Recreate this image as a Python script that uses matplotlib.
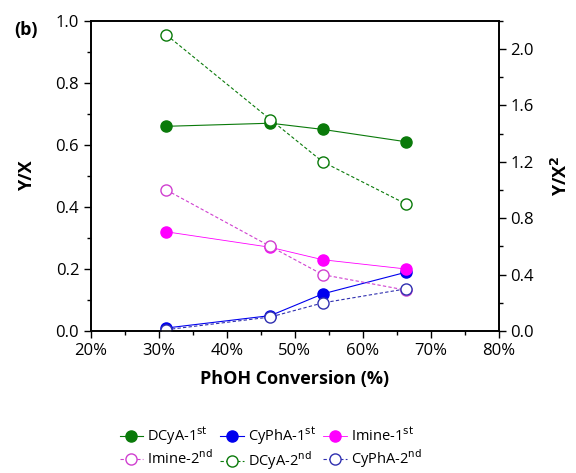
import matplotlib.pyplot as plt
from matplotlib.ticker import MultipleLocator, FuncFormatter

plt.rcParams['font.family'] = ['Open Sans', 'DejaVu Sans']

conv = [31.1, 46.4, 54.1, 66.4]   # PhOH conversion, %

# first-order products (Y/X, left axis)
dcya_1 = [0.66, 0.67, 0.65, 0.61]
cypha_1 = [0.01, 0.05, 0.12, 0.19]
imine_1 = [0.32, 0.27, 0.23, 0.20]

# second-order products (Y/X^2, right axis)
imine_2 = [1.00, 0.60, 0.40, 0.29]
dcya_2 = [2.10, 1.50, 1.20, 0.90]
cypha_2 = [0.01, 0.10, 0.20, 0.30]

green = '#0a7a0a'
blue = '#0000ee'
magenta = '#ff00ff'

fig = plt.figure(figsize=(5.76, 4.73), dpi=100)
ax = fig.add_axes([0.158, 0.300, 0.708, 0.656])
ax2 = ax.twinx()

h1, = ax.plot(conv, dcya_1, '-o', color=green, lw=0.8, ms=8, label='DCyA-1$^{\\rm st}$')
h2, = ax.plot(conv, cypha_1, '-o', color=blue, lw=0.8, ms=8, label='CyPhA-1$^{\\rm st}$')
h3, = ax.plot(conv, imine_1, '-o', color=magenta, lw=0.6, ms=8, label='Imine-1$^{\\rm st}$')

h4, = ax2.plot(conv, imine_2, '--o', color='#d040d0', lw=0.8, ms=8, mfc='white',
               dashes=(3, 2), label='Imine-2$^{\\rm nd}$')
h5, = ax2.plot(conv, dcya_2, '--o', color=green, lw=0.8, ms=8, mfc='white',
               dashes=(3, 2), label='DCyA-2$^{\\rm nd}$')
h6, = ax2.plot(conv, cypha_2, '--o', color='#3030b0', lw=0.8, ms=8, mfc='white',
               dashes=(3, 2), label='CyPhA-2$^{\\rm nd}$')

ax.set_xlim(20, 80)
ax.set_ylim(0, 1.0)
ax2.set_ylim(0, 2.2)

ax.xaxis.set_major_locator(MultipleLocator(10))
ax.xaxis.set_minor_locator(MultipleLocator(5))
ax.xaxis.set_major_formatter(FuncFormatter(lambda v, p: '%d%%' % v))
ax.yaxis.set_major_locator(MultipleLocator(0.2))
ax.yaxis.set_minor_locator(MultipleLocator(0.1))
ax.yaxis.set_major_formatter(FuncFormatter(lambda v, p: '%.1f' % v))
ax2.yaxis.set_major_locator(MultipleLocator(0.4))
ax2.yaxis.set_minor_locator(MultipleLocator(0.2))
ax2.yaxis.set_major_formatter(FuncFormatter(lambda v, p: '%.1f' % v))

for a in (ax, ax2):
    a.tick_params(which='major', direction='out', length=5, width=1, labelsize=12)
    a.tick_params(which='minor', direction='out', length=3, width=1)
    for s in a.spines.values():
        s.set_linewidth(1.2)

ax.set_xlabel('PhOH Conversion (%)', fontsize=13, fontweight='bold', labelpad=8)
ax.set_ylabel('Y/X', fontsize=13, fontweight='bold', labelpad=14)
ax2.set_ylabel('Y/X$^\\mathbf{2}$', fontsize=13, fontweight='bold', labelpad=12)
fig.text(0.025, 0.937, '(b)', fontsize=13, fontweight='bold', va='center')

handles = [h1, h4, h2, h5, h3, h6]
fig.legend(handles=handles, labels=[h.get_label() for h in handles], ncol=3,
           loc='center', bbox_to_anchor=(0.47, 0.052), frameon=False,
           fontsize=10.5, handlelength=1.6, handletextpad=0.3, columnspacing=0.5,
           labelspacing=0.15, markerscale=1.0)

fig.savefig('out.png', dpi=100)
